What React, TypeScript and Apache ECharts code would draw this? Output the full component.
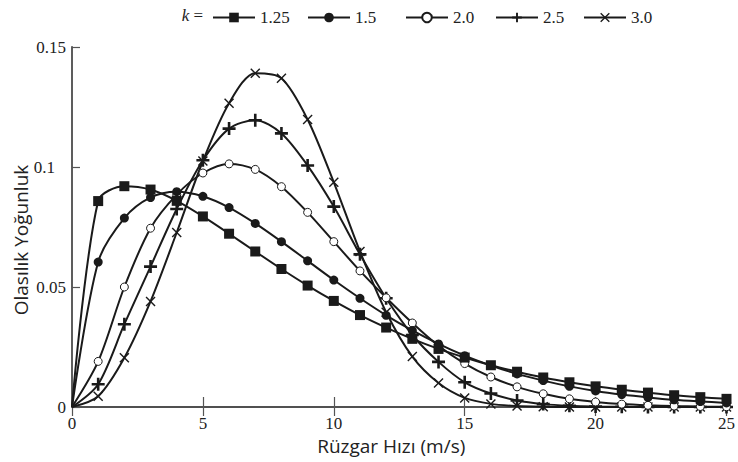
import { useEffect, useRef } from 'react';
import * as echarts from 'echarts';

const speeds = [0, 1, 2, 3, 4, 5, 6, 7, 8, 9, 10, 11, 12, 13, 14, 15, 16, 17, 18, 19, 20, 21, 22, 23, 24, 25];
const shapeNames = ['1.25', '1.5', '2.0', '2.5', '3.0'];
const k125 = [0, 0.0858, 0.0920, 0.0906, 0.0859, 0.0794, 0.0722, 0.0648, 0.0575, 0.0506, 0.0442, 0.0383, 0.0331, 0.0284, 0.0242, 0.0206, 0.0174, 0.0147, 0.0123, 0.0103, 0.0086, 0.0072, 0.0060, 0.0049, 0.0041, 0.0034];
const k150 = [0, 0.0604, 0.0787, 0.0873, 0.0897, 0.0878, 0.0831, 0.0765, 0.0689, 0.0609, 0.0529, 0.0453, 0.0382, 0.0319, 0.0263, 0.0214, 0.0173, 0.0138, 0.0110, 0.0086, 0.0067, 0.0052, 0.0040, 0.0030, 0.0023, 0.0017];
const k200 = [0, 0.0190, 0.0500, 0.0745, 0.0885, 0.0975, 0.1013, 0.0990, 0.0918, 0.0811, 0.0689, 0.0567, 0.0455, 0.0350, 0.0255, 0.0181, 0.0125, 0.0084, 0.0055, 0.0034, 0.0021, 0.0012, 0.0007, 0.0004, 0.0002, 0.0001];
const k250 = [0, 0.0095, 0.0345, 0.0585, 0.0825, 0.1028, 0.1160, 0.1195, 0.1140, 0.1006, 0.0835, 0.0636, 0.0453, 0.0300, 0.0188, 0.0103, 0.0056, 0.0027, 0.0012, 0.0005, 0.0002, 0.0001, 0, 0, 0, 0];
const k300 = [0, 0.0045, 0.0205, 0.0440, 0.0727, 0.1025, 0.1266, 0.1391, 0.1370, 0.1198, 0.0936, 0.0648, 0.0395, 0.0210, 0.0100, 0.0038, 0.0013, 0.0004, 0.0001, 0, 0, 0, 0, 0, 0, 0];

const INK = '#1a1a1a';
const SERIF = '"Liberation Serif", "Times New Roman", serif';
const SANS = '"Open Sans", "Noto Sans", sans-serif';

const PLUS = 'path://M4,0H6V4H10V6H6V10H4V6H0V4H4Z';
const CROSS = 'path://M1,0L5,4L9,0L10,1L6,5L10,9L9,10L5,6L1,10L0,9L4,5L0,1Z';

function toData(vals: number[]) {
  return speeds.map((x, i) => (i === 0 ? { value: [x, vals[i]], symbol: 'none' } : [x, vals[i]]));
}

export default function App() {
  const ref = useRef<HTMLDivElement>(null);
  useEffect(() => {
    document.body.style.margin = '0';
    const chart = echarts.init(ref.current!, null, { renderer: 'svg' });
    const base = {
      type: 'line',
      smooth: 0.3,
      clip: false,
      lineStyle: { color: INK, width: 2 },
      itemStyle: { color: INK },
      emphasis: { disabled: true },
    };
    const series = [
      { ...base, name: shapeNames[4], data: toData(k300), symbol: CROSS, symbolSize: 10 },
      { ...base, name: shapeNames[3], data: toData(k250), symbol: PLUS, symbolSize: 13 },
      {
        ...base,
        name: shapeNames[2],
        data: toData(k200),
        symbol: 'circle',
        symbolSize: 8,
        itemStyle: { color: '#fff', borderColor: INK, borderWidth: 1 },
      },
      { ...base, name: shapeNames[1], data: toData(k150), symbol: 'circle', symbolSize: 9 },
      { ...base, name: shapeNames[0], data: toData(k125), symbol: 'rect', symbolSize: 10 },
    ];
    const legendLefts = [212, 307, 405, 495, 583];
    const legends = shapeNames.map((n, i) => ({
      data: [n],
      left: legendLefts[i],
      top: 9,
      padding: 0,
      itemWidth: 42,
      itemHeight: 12,
      selectedMode: false,
      textStyle: { fontFamily: SERIF, fontSize: 17, color: '#222' },
    }));
    const option = {
      animation: false,
      backgroundColor: '#fff',
      legend: legends,
      graphic: [
        {
          type: 'text',
          x: 203,
          y: 15,
          style: {
            text: '{i|k} =',
            rich: { i: { fontStyle: 'italic', fontFamily: SERIF, fontSize: 17, fill: '#222' } },
            fontFamily: SERIF,
            fontSize: 17,
            fill: '#222',
            align: 'right',
            verticalAlign: 'middle',
          },
        },
        {
          type: 'text',
          x: 21,
          y: 240,
          rotation: Math.PI / 2,
          style: {
            text: 'Olasılık Yoğunluk',
            fontFamily: SANS,
            fontSize: 19,
            fill: '#222',
            align: 'center',
            verticalAlign: 'middle',
          },
        },
      ],
      grid: { left: 72, right: 7, top: 47, bottom: 55 },
      xAxis: [
        {
          type: 'value',
          min: 0,
          max: 25,
          interval: 5,
          name: 'Rüzgar Hızı (m/s)',
          nameLocation: 'middle',
          nameGap: 14,
          nameTextStyle: { fontFamily: SANS, fontSize: 19, color: '#222', padding: [0, 16, 0, 0] },
          axisLine: { lineStyle: { color: '#777', width: 2 } },
          axisTick: { inside: true, length: 10, lineStyle: { color: '#555', width: 1.2 } },
          axisLabel: { margin: 8, fontFamily: SERIF, fontSize: 17, color: '#222' },
          splitLine: { show: false },
        },
        {
          type: 'value',
          position: 'top',
          min: 0,
          max: 25,
          interval: 5,
          axisLine: { show: true, lineStyle: { color: '#444', width: 1.5 } },
          axisTick: { inside: true, length: 9, lineStyle: { color: '#555', width: 1.2 } },
          axisLabel: { show: false },
          splitLine: { show: false },
        },
      ],
      yAxis: [
        {
          type: 'value',
          min: 0,
          max: 0.15,
          interval: 0.05,
          axisLine: { show: true, lineStyle: { color: '#777', width: 2 } },
          axisTick: { show: true, inside: true, length: 8, lineStyle: { color: '#555', width: 1.2 } },
          axisLabel: {
            margin: 6,
            fontFamily: SERIF,
            fontSize: 17,
            color: '#222',
            formatter: (v: number) => (Math.abs(v - 0.1) < 1e-9 ? '{p|0.1}' : String(v)),
            rich: { p: { fontFamily: SERIF, fontSize: 17, color: '#222', padding: [0, 11, 0, 0] } },
          },
          splitLine: { show: false },
        },
        {
          type: 'value',
          position: 'right',
          min: 0,
          max: 0.15,
          interval: 0.05,
          axisLine: { show: true, lineStyle: { color: '#555', width: 1.5 } },
          axisTick: { show: false },
          axisLabel: { show: false },
          splitLine: { show: false },
        },
      ],
      series,
    };
    chart.setOption(option as any);
    return () => chart.dispose();
  }, []);
  return <div ref={ref} style={{ position: 'absolute', left: 0, top: 0, width: 738, height: 462 }} />;
}
